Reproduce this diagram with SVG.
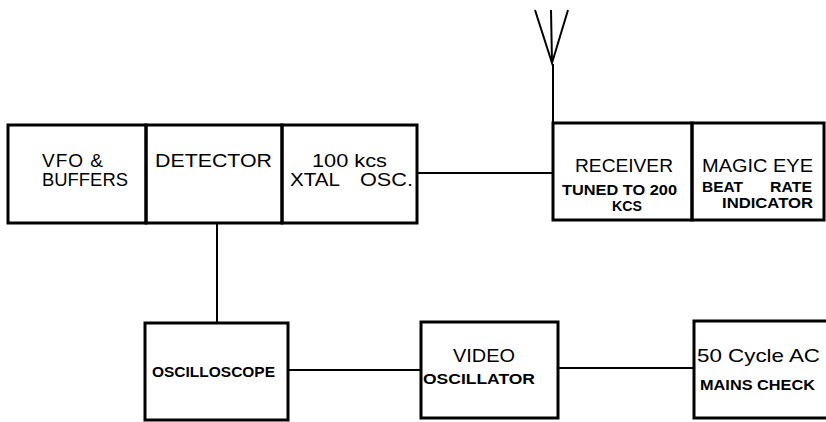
<svg xmlns="http://www.w3.org/2000/svg" width="826" height="422" viewBox="0 0 826 422">
<style>
.box{fill:none;stroke:#000;stroke-width:3}
.ln{fill:none;stroke:#000;stroke-width:2}
.t{font-family:"Liberation Sans",Arial,sans-serif;font-size:19px;fill:#000;white-space:pre}
.s{font-family:"Liberation Sans",Arial,sans-serif;font-size:14px;font-weight:bold;fill:#000;white-space:pre}
</style>
<rect width="826" height="422" fill="#fff"/>
<g id="connectors">
<line class="ln" x1="417" y1="173" x2="553" y2="173"/>
<line class="ln" x1="217" y1="224" x2="217" y2="323"/>
<line class="ln" x1="288" y1="370" x2="421" y2="370"/>
<line class="ln" x1="558" y1="368" x2="694" y2="368"/>
<g id="antenna">
<line class="ln" x1="553" y1="64" x2="553" y2="123"/>
<polyline class="ln" points="535,10 552,63 568,10"/>
<line class="ln" x1="551" y1="10" x2="552" y2="63"/>
</g>
</g>
<g id="vfo">
<rect class="box" x="8" y="125" width="138" height="98"/>
<text class="t" x="42" y="167" textLength="61" lengthAdjust="spacing">VFO &amp;</text>
<text class="t" x="42" y="186" textLength="86" lengthAdjust="spacingAndGlyphs">BUFFERS</text>
</g>
<g id="detector">
<rect class="box" x="146" y="125" width="136" height="98"/>
<text class="t" x="155" y="167" textLength="117" lengthAdjust="spacingAndGlyphs">DETECTOR</text>
</g>
<g id="xtal">
<rect class="box" x="282" y="125" width="135" height="98"/>
<text class="t" x="312" y="167" textLength="75" lengthAdjust="spacingAndGlyphs">100 kcs</text>
<text class="t" x="290" y="186"><tspan textLength="50" lengthAdjust="spacingAndGlyphs">XTAL</tspan><tspan x="360" textLength="53" lengthAdjust="spacingAndGlyphs">OSC.</tspan></text>
</g>
<g id="receiver">
<rect class="box" x="553" y="123" width="139" height="97"/>
<text class="t" x="575" y="172" textLength="98" lengthAdjust="spacingAndGlyphs">RECEIVER</text>
<text class="s" x="562" y="195" textLength="115" lengthAdjust="spacingAndGlyphs">TUNED TO 200</text>
<text class="s" x="612" y="211" textLength="30" lengthAdjust="spacingAndGlyphs">KCS</text>
</g>
<g id="magiceye">
<rect class="box" x="692" y="123" width="132" height="97"/>
<text class="t" x="702" y="172" textLength="111" lengthAdjust="spacingAndGlyphs">MAGIC EYE</text>
<text class="s" x="702" y="192"><tspan textLength="41" lengthAdjust="spacingAndGlyphs">BEAT</tspan><tspan x="770" textLength="42" lengthAdjust="spacingAndGlyphs">RATE</tspan></text>
<text class="s" x="722" y="208" textLength="91" lengthAdjust="spacingAndGlyphs">INDICATOR</text>
</g>
<g id="oscilloscope">
<rect class="box" x="145" y="323" width="143" height="97"/>
<text class="s" x="152" y="377" textLength="123" lengthAdjust="spacingAndGlyphs">OSCILLOSCOPE</text>
</g>
<g id="video">
<rect class="box" x="421" y="322" width="137" height="96"/>
<text class="t" x="453" y="362" textLength="62" lengthAdjust="spacingAndGlyphs">VIDEO</text>
<text class="s" x="423" y="384" textLength="112" lengthAdjust="spacingAndGlyphs">OSCILLATOR</text>
</g>
<g id="mains">
<rect class="box" x="694" y="321" width="134" height="97"/>
<text class="t" x="697" y="362" textLength="123" lengthAdjust="spacingAndGlyphs">50 Cycle AC</text>
<text class="s" x="700" y="390" textLength="115" lengthAdjust="spacingAndGlyphs">MAINS CHECK</text>
</g>
</svg>
